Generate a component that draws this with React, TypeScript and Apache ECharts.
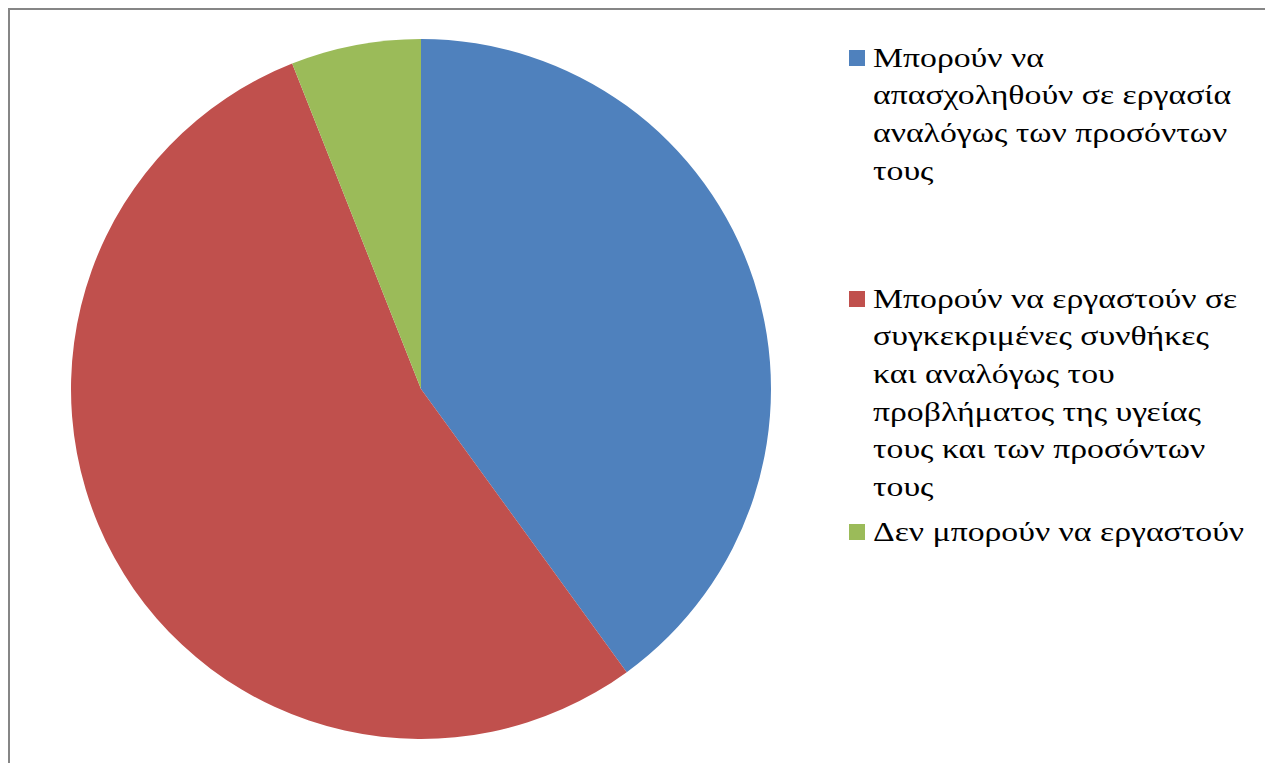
import React, { useEffect, useRef } from "react";
import * as echarts from "echarts";

const categories: string[] = [
  "Μπορούν να απασχοληθούν σε εργασία αναλόγως των προσόντων τους",
  "Μπορούν να εργαστούν σε συγκεκριμένες συνθήκες και αναλόγως του προβλήματος της υγείας τους και των προσόντων τους",
  "Δεν μπορούν να εργαστούν",
];
const values: number[] = [40, 54, 6];
const colors: string[] = ["#4F81BD", "#C0504D", "#9BBB59"];
const legendLines: string[][] = [
  ["Μπορούν να", "απασχοληθούν σε εργασία", "αναλόγως των προσόντων", "τους"],
  [
    "Μπορούν να εργαστούν σε",
    "συγκεκριμένες συνθήκες",
    "και αναλόγως του",
    "προβλήματος της υγείας",
    "τους και των προσόντων",
    "τους",
  ],
  ["Δεν μπορούν να εργαστούν"],
];
// first-line centre (chart coords) of each legend entry
const legendTops: number[] = [48, 289, 522];

export default function App() {
  const ref = useRef<HTMLDivElement>(null);
  useEffect(() => {
    if (!ref.current) return;
    const chart = echarts.init(ref.current, undefined, { renderer: "svg" });
    const LH = 37.6;
    const graphics: any[] = [];
    legendLines.forEach((lines, i) => {
      const cy = legendTops[i];
      graphics.push({
        type: "rect",
        left: 839,
        top: cy - 8,
        shape: { width: 16, height: 16 },
        style: { fill: colors[i] },
        silent: true,
      });
      graphics.push({
        type: "text",
        x: 863,
        y: cy - LH / 2,
        scaleX: 1.25,
        style: {
          text: lines.join("\n"),
          fontFamily: "Liberation Serif",
          fontSize: 27,
          fill: "#000000",
          lineHeight: LH,
          verticalAlign: "top",
          align: "left",
        },
        silent: true,
      });
    });
    chart.setOption({
      animation: false,
      backgroundColor: "#ffffff",
      legend: { show: false },
      graphic: graphics,
      series: [
        {
          type: "pie",
          center: [411, 379],
          radius: 350,
          startAngle: 90,
          clockwise: true,
          label: { show: false },
          labelLine: { show: false },
          emphasis: { disabled: true },
          itemStyle: { borderWidth: 0 },
          data: categories.map((name, i) => ({
            name,
            value: values[i],
            itemStyle: { color: colors[i] },
          })),
        },
      ],
    });
    return () => chart.dispose();
  }, []);
  return (
    <div
      style={{
        position: "absolute",
        left: 8,
        top: 8,
        width: 1257,
        height: 755,
        boxSizing: "border-box",
        borderTop: "2px solid #868686",
        borderLeft: "2px solid #868686",
        background: "#ffffff",
        overflow: "hidden",
      }}
    >
      <div ref={ref} style={{ width: 1255, height: 753 }} />
    </div>
  );
}
